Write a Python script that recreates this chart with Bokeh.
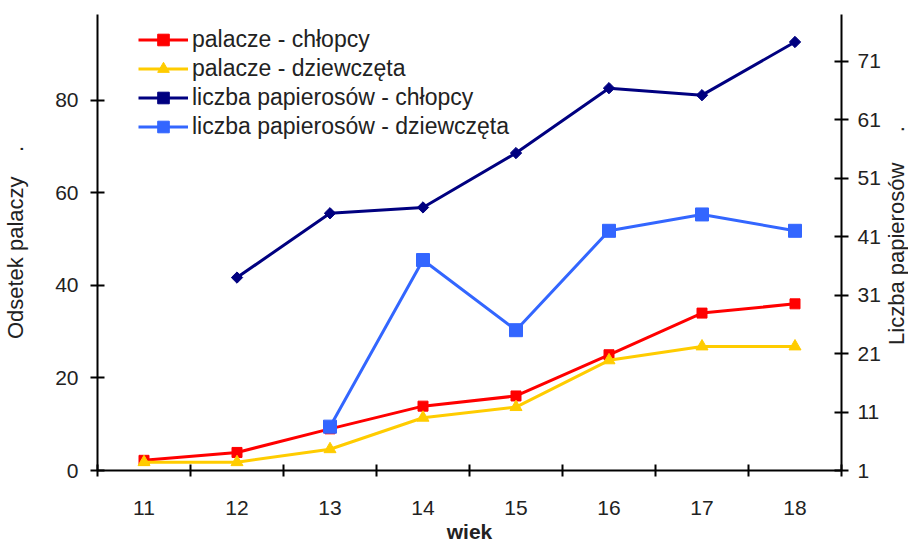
import math
from bokeh.plotting import figure
from bokeh.layouts import row
from bokeh.models import Range1d, LinearAxis, FixedTicker, Legend, LegendItem, Label
from bokeh.embed import file_html
from bokeh.resources import INLINE

# ---- data ----
ages = [11, 12, 13, 14, 15, 16, 17, 18]
palacze_chlopcy = [2.2, 3.9, 9.0, 13.9, 16.1, 25.0, 34.0, 36.0]
palacze_dziewczeta = [1.8, 1.8, 4.6, 11.4, 13.7, 23.8, 26.8, 26.8]
papierosy_chlopcy_ages = [12, 13, 14, 15, 16, 17, 18]
papierosy_chlopcy = [34.0, 45.0, 46.0, 55.3, 66.4, 65.2, 74.3]
papierosy_dziewczeta_ages = [13, 14, 15, 16, 17, 18]
papierosy_dziewczeta = [8.5, 37.0, 25.0, 42.0, 44.8, 42.0]
left_ticks = [0, 20, 40, 60, 80]
right_ticks = [1, 11, 21, 31, 41, 51, 61, 71]
labels = ["palacze - chłopcy", "palacze - dziewczęta",
          "liczba papierosów - chłopcy", "liczba papierosów - dziewczęta"]
left_title = "Odsetek palaczy" + "\u00a0" * 4 + "."
right_title = "Liczba papierosów" + "\u00a0" * 5 + "."
x_title = "wiek"

FONT = "Liberation Sans"
TXT = "#222222"
H = 545
TOP, BOTTOM = 14, 73

p = figure(width=883, height=H,
           x_range=Range1d(10.5, 18.5), y_range=Range1d(0, 98.5),
           x_axis_type=None, y_axis_type=None,
           output_backend="svg", toolbar_location=None,
           min_border_left=96, min_border_right=40,
           min_border_top=TOP, min_border_bottom=BOTTOM)
p.outline_line_color = None
p.background_fill_color = "white"
p.border_fill_color = "white"
p.extra_y_ranges = {"right": Range1d(1, 79)}

boundaries = [a - 0.5 for a in ages] + [ages[-1] + 0.5]
xaxis = LinearAxis(ticker=FixedTicker(ticks=ages, minor_ticks=boundaries),
                   axis_label=x_title)
yl = LinearAxis(ticker=FixedTicker(ticks=left_ticks), axis_label=left_title)
yr = LinearAxis(y_range_name="right", ticker=FixedTicker(ticks=right_ticks))

for ax in (xaxis, yl, yr):
    ax.axis_line_color = "black"
    ax.axis_line_width = 2
    ax.major_tick_line_color = "black"
    ax.major_tick_line_width = 2
    ax.major_label_text_font = FONT
    ax.major_label_text_font_size = "21px"
    ax.major_label_text_color = TXT
    ax.axis_label_text_font = FONT
    ax.axis_label_text_font_size = "22px"
    ax.axis_label_text_color = TXT
    ax.axis_label_text_font_style = "normal"

xaxis.axis_label_text_font_style = "bold"
xaxis.axis_label_text_font_size = "21px"
xaxis.major_tick_in = 0
xaxis.major_tick_out = 0
xaxis.minor_tick_in = 6
xaxis.minor_tick_out = 6
xaxis.minor_tick_line_color = "black"
xaxis.minor_tick_line_width = 2
xaxis.major_label_standoff = 24
xaxis.axis_label_standoff = 2

for ax in (yl, yr):
    ax.major_tick_in = 7
    ax.major_tick_out = 7
    ax.minor_tick_line_color = None
yl.major_label_standoff = 12
yl.axis_label_standoff = 24
yr.major_label_standoff = 9

p.add_layout(xaxis, "below")
p.add_layout(yl, "left")
p.add_layout(yr, "right")

RED, YEL, NAVY, BLUE = "#FF0000", "#FFCC00", "#000080", "#3366FF"

l1 = p.line(ages, palacze_chlopcy, line_color=RED, line_width=3)
m1 = p.scatter(ages, palacze_chlopcy, marker="square", size=10,
               fill_color=RED, line_color=RED)
l2 = p.line(ages, palacze_dziewczeta, line_color=YEL, line_width=3)
m2 = p.scatter(ages, palacze_dziewczeta, marker="triangle", size=12,
               fill_color=YEL, line_color=YEL)
l3 = p.line(papierosy_chlopcy_ages, papierosy_chlopcy, line_color=NAVY,
            line_width=3, y_range_name="right")
m3 = p.scatter(papierosy_chlopcy_ages, papierosy_chlopcy, marker="square",
               angle=math.pi / 4, size=8, fill_color=NAVY, line_color=NAVY,
               y_range_name="right")
l4 = p.line(papierosy_dziewczeta_ages, papierosy_dziewczeta, line_color=BLUE,
            line_width=3, y_range_name="right")
m4 = p.scatter(papierosy_dziewczeta_ages, papierosy_dziewczeta, marker="square",
               size=13, fill_color=BLUE, line_color=BLUE, y_range_name="right")

items = [LegendItem(label=labels[0], renderers=[l1, m1]),
         LegendItem(label=labels[1], renderers=[l2, m2]),
         LegendItem(label=labels[2], renderers=[l3, m3]),
         LegendItem(label=labels[3], renderers=[l4, m4])]
legend = Legend(items=items, location=(41, 329), padding=0, margin=0,
                spacing=0, glyph_width=50, glyph_height=29, label_height=29,
                label_standoff=4, label_text_font=FONT,
                label_text_font_size="23px", label_text_color=TXT,
                border_line_color=None, background_fill_alpha=0)
p.add_layout(legend)

# narrow strip on the right carrying the right-hand axis title (reads bottom to top)
# (its frame is aligned with the main plot's frame by the row layout)
W2 = 25
p2 = figure(width=W2, height=H, x_range=Range1d(0, 1), y_range=Range1d(0, 1),
            x_axis_type=None, y_axis_type=None,
            output_backend="svg", toolbar_location=None,
            min_border_left=0, min_border_right=0,
            min_border_top=TOP, min_border_bottom=BOTTOM)
p2.outline_line_color = None
p2.grid.visible = False
p2.add_layout(Label(x=W2 / 2, y=H - BOTTOM - 237, x_units="screen", y_units="screen",
                    text=right_title, angle=math.pi / 2,
                    text_align="center", text_baseline="middle",
                    text_font=FONT, text_font_size="22px", text_color=TXT))

layout = row(p, p2, spacing=0)
open("out.html", "w").write(file_html(layout, INLINE))
